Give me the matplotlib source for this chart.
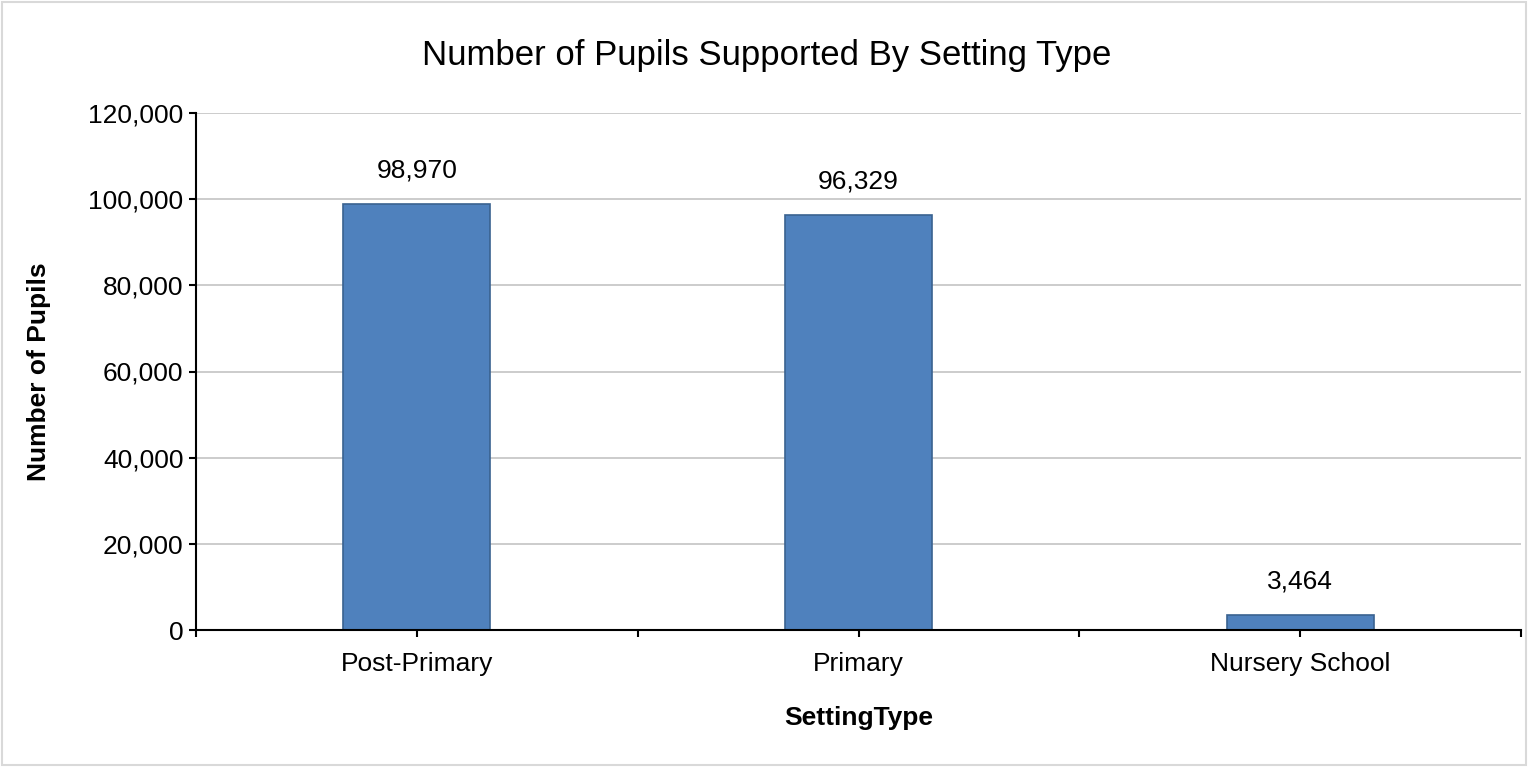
import matplotlib.pyplot as plt
from matplotlib.patches import Rectangle
from matplotlib.ticker import FuncFormatter, FixedLocator

plt.rcParams['font.family'] = ['Liberation Sans', 'DejaVu Sans']

# data
setting_types = ['Post-Primary', 'Primary', 'Nursery School']
pupils = [98970, 96329, 3464]

fig = plt.figure(figsize=(15.28, 7.67), dpi=100)
ax = fig.add_axes([196/1528, 1-630/767, (1521-196)/1528, (630-113)/767])

x = list(range(len(setting_types)))
bars = ax.bar(x, pupils, width=1/3, color='#4F81BD', edgecolor='#3A6290', linewidth=1.2, zorder=3)

ax.set_xlim(-0.5, len(setting_types)-0.5)
ax.set_ylim(0, 120000)
ax.set_yticks(range(0, 120001, 20000))
ax.yaxis.set_major_formatter(FuncFormatter(lambda v, p: f'{int(v):,}'))
ax.grid(axis='y', color='#C8C8C8', linewidth=1.3, zorder=0)

# category labels at centres, tick marks at boundaries and centres
ax.set_xticks(x)
ax.set_xticklabels(setting_types, fontsize=19)
ax.xaxis.set_minor_locator(FixedLocator([-0.5, 0.5, 1.5, 2.5]))
ax.tick_params(axis='x', which='both', direction='out', length=5, width=1.5, color='black', pad=11)
ax.tick_params(axis='y', direction='out', length=5, width=1.5, labelsize=19, pad=4)

for s in ['top', 'right']:
    ax.spines[s].set_visible(False)
for s in ['left', 'bottom']:
    ax.spines[s].set_linewidth(1.5)
    ax.spines[s].set_zorder(4)

for b, v in zip(bars, pupils):
    ax.annotate(f'{v:,}', (b.get_x() + b.get_width()/2, v), xytext=(0, 24),
                textcoords='offset points', ha='center', va='center', fontsize=19)

ax.set_xlabel('SettingType', fontsize=19, fontweight='bold')
ax.set_ylabel('Number of Pupils', fontsize=19, fontweight='bold')
ax.xaxis.set_label_coords(0.5, (630-718)/517)
ax.yaxis.set_label_coords((39-196)/1325, 0.5)
ax.xaxis.label.set_va('center')
ax.yaxis.label.set_va('center')
fig.text(767/1528, 1-55/767, 'Number of Pupils Supported By Setting Type', ha='center', va='center', fontsize=25)

# light frame round the whole chart
fig.patches.append(Rectangle((0.0015, 0.002), 0.997, 0.996, transform=fig.transFigure,
                             fill=False, edgecolor='#D9D9D9', linewidth=1.5))

fig.savefig('out.png', dpi=100)
